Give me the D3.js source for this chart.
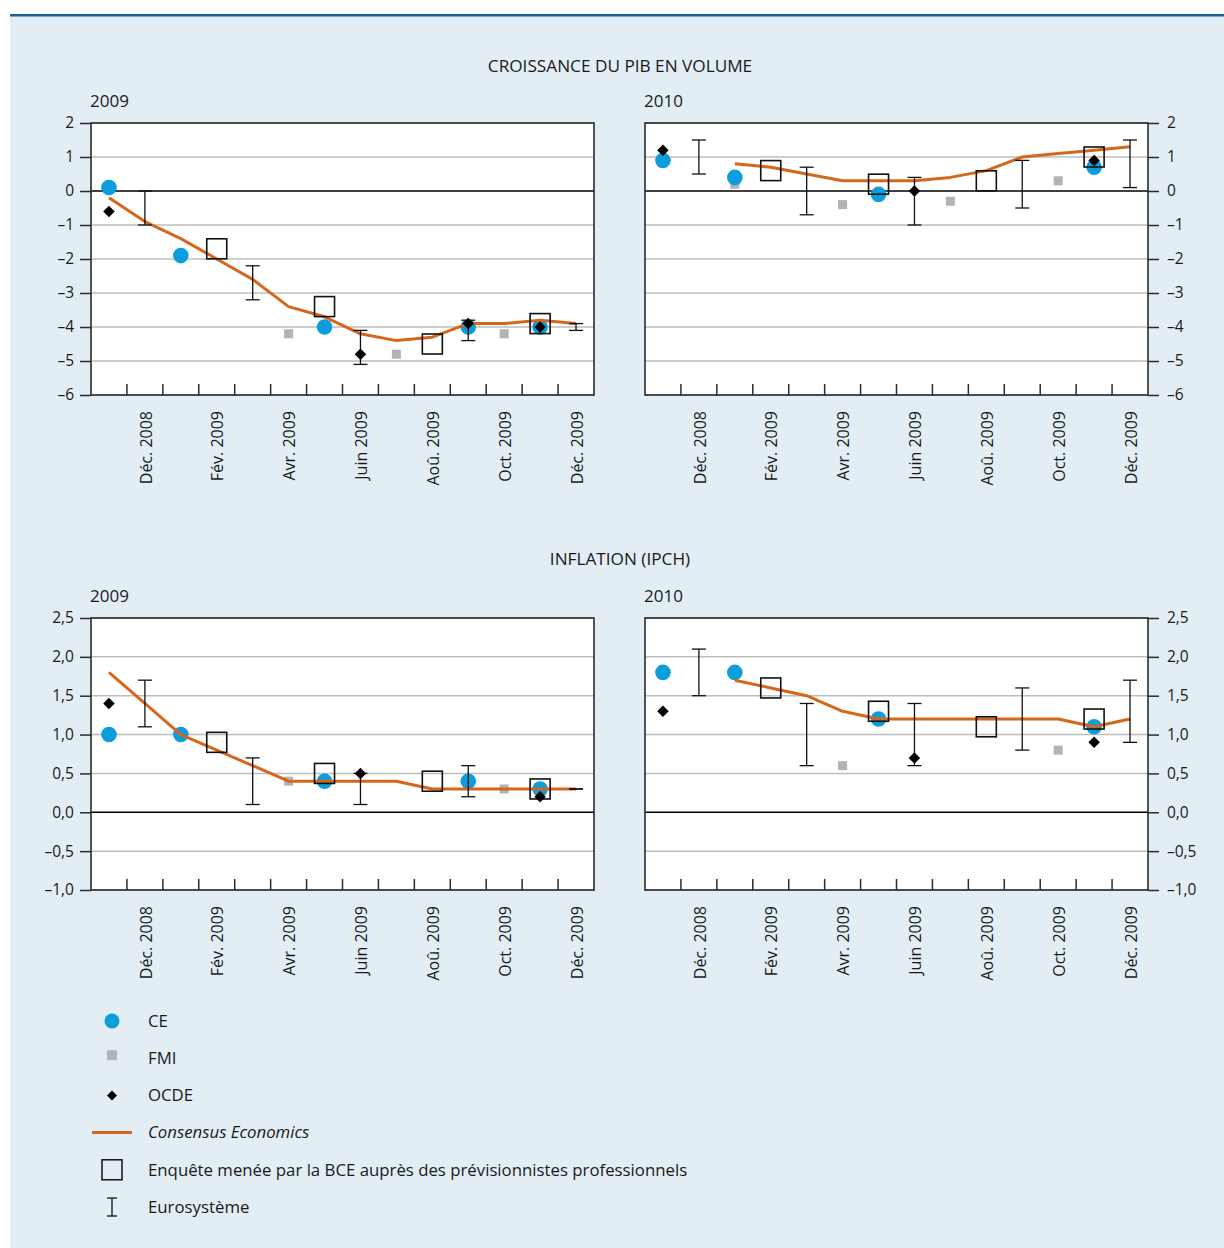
<!DOCTYPE html>
<html>
<head>
<meta charset="utf-8">
<script src="https://cdn.jsdelivr.net/npm/d3@7"></script>
<style>
  body { margin: 0; background: #ffffff; }
  svg { display: block; }
  text { font-family: "Open Sans", "Noto Sans", sans-serif; fill: #1a1a1a; }
</style>
</head>
<body>
<svg id="chart" width="1224" height="1248"></svg>
<script>
// Survey months (November 2008 – December 2009)
const months = ["Nov. 2008", "Déc. 2008", "Janv. 2009", "Fév. 2009", "Mars 2009", "Avr. 2009",
  "Mai 2009", "Juin 2009", "Juil. 2009", "Aoû. 2009", "Sept. 2009", "Oct. 2009", "Nov. 2009", "Déc. 2009"];
// Month labels printed under the axis
const monthLabels = ["Déc. 2008", "Fév. 2009", "Avr. 2009", "Juin 2009", "Aoû. 2009", "Oct. 2009", "Déc. 2009"];

// Axis tick values
const gdpTicks = [2, 1, 0, -1, -2, -3, -4, -5, -6];
const hicpTicks = [2.5, 2.0, 1.5, 1.0, 0.5, 0.0, -0.5, -1.0];

// ---- Real GDP growth, forecasts for 2009 ----
const gdp2009CE        = [0.1, null, -1.9, null, null, null, -4.0, null, null, null, -4.0, null, -4.0, null];
const gdp2009FMI       = [null, null, null, null, null, -4.2, null, null, -4.8, null, null, -4.2, null, null];
const gdp2009OCDE      = [-0.6, null, null, null, null, null, null, -4.8, null, null, -3.9, null, -4.0, null];
const gdp2009SPF       = [null, null, null, -1.7, null, null, -3.4, null, null, -4.5, null, null, -3.9, null];
const gdp2009EuroLow   = [null, -1.0, null, null, -3.2, null, null, -5.1, null, null, -4.4, null, null, -4.1];
const gdp2009EuroHigh  = [null, 0.0, null, null, -2.2, null, null, -4.1, null, null, -3.8, null, null, -3.9];
const gdp2009Consensus = [-0.2, -0.9, -1.4, -2.0, -2.6, -3.4, -3.7, -4.2, -4.4, -4.3, -3.9, -3.9, -3.8, -3.9];

// ---- Real GDP growth, forecasts for 2010 ----
const gdp2010CE        = [0.9, null, 0.4, null, null, null, -0.1, null, null, null, null, null, 0.7, null];
const gdp2010FMI       = [null, null, 0.2, null, null, -0.4, null, null, -0.3, null, null, 0.3, null, null];
const gdp2010OCDE      = [1.2, null, null, null, null, null, null, 0.0, null, null, null, null, 0.9, null];
const gdp2010SPF       = [null, null, null, 0.6, null, null, 0.2, null, null, 0.3, null, null, 1.0, null];
const gdp2010EuroLow   = [null, 0.5, null, null, -0.7, null, null, -1.0, null, null, -0.5, null, null, 0.1];
const gdp2010EuroHigh  = [null, 1.5, null, null, 0.7, null, null, 0.4, null, null, 0.9, null, null, 1.5];
const gdp2010Consensus = [null, null, 0.8, 0.7, 0.5, 0.3, 0.3, 0.3, 0.4, 0.6, 1.0, 1.1, 1.2, 1.3];

// ---- HICP inflation, forecasts for 2009 ----
const hicp2009CE        = [1.0, null, 1.0, null, null, null, 0.4, null, null, null, 0.4, null, 0.3, null];
const hicp2009FMI       = [null, null, null, null, null, 0.4, null, null, null, null, null, 0.3, null, null];
const hicp2009OCDE      = [1.4, null, null, null, null, null, null, 0.5, null, null, null, null, 0.2, null];
const hicp2009SPF       = [null, null, null, 0.9, null, null, 0.5, null, null, 0.4, null, null, 0.3, null];
const hicp2009EuroLow   = [null, 1.1, null, null, 0.1, null, null, 0.1, null, null, 0.2, null, null, 0.3];
const hicp2009EuroHigh  = [null, 1.7, null, null, 0.7, null, null, 0.5, null, null, 0.6, null, null, 0.3];
const hicp2009Consensus = [1.8, 1.4, 1.0, 0.8, 0.6, 0.4, 0.4, 0.4, 0.4, 0.3, 0.3, 0.3, 0.3, 0.3];

// ---- HICP inflation, forecasts for 2010 ----
const hicp2010CE        = [1.8, null, 1.8, null, null, null, 1.2, null, null, null, null, null, 1.1, null];
const hicp2010FMI       = [null, null, null, null, null, 0.6, null, null, null, null, null, 0.8, null, null];
const hicp2010OCDE      = [1.3, null, null, null, null, null, null, 0.7, null, null, null, null, 0.9, null];
const hicp2010SPF       = [null, null, null, 1.6, null, null, 1.3, null, null, 1.1, null, null, 1.2, null];
const hicp2010EuroLow   = [null, 1.5, null, null, 0.6, null, null, 0.6, null, null, 0.8, null, null, 0.9];
const hicp2010EuroHigh  = [null, 2.1, null, null, 1.4, null, null, 1.4, null, null, 1.6, null, null, 1.7];
const hicp2010Consensus = [null, null, 1.7, 1.6, 1.5, 1.3, 1.2, 1.2, 1.2, 1.2, 1.2, 1.2, 1.1, 1.2];

// Legend entries
const legendLabels = ["CE", "FMI", "OCDE", "Consensus Economics",
  "Enquête menée par la BCE auprès des prévisionnistes professionnels", "Eurosystème"];

const COL = {
  ce: "#0b9ddc", fmi: "#b3b3b3", ocde: "#000000", line: "#d4671b",
  frame: "#2b2b2b", grid: "#bdbdbd", bg: "#e2edf4", rule: "#1f5d9c"
};

const svg = d3.select("#chart");

// page background and top rule
svg.append("rect").attr("x", 10).attr("y", 16).attr("width", 1214).attr("height", 1232).attr("fill", COL.bg);
svg.append("rect").attr("x", 10).attr("y", 14).attr("width", 1214).attr("height", 2.5).attr("fill", COL.rule);

// section titles
svg.append("text").attr("x", 620).attr("y", 72).attr("text-anchor", "middle")
  .style("font-size", "17.2px").text("CROISSANCE DU PIB EN VOLUME");
svg.append("text").attr("x", 620).attr("y", 565).attr("text-anchor", "middle")
  .style("font-size", "17.2px").text("INFLATION (IPCH)");

const fmtGdp = d => String(d).replace("-", "–");
const fmtHicp = d => d3.format(".1f")(d).replace(".", ",").replace("−", "–").replace("-", "–");

function drawPanel(p) {
  const g = svg.append("g");
  const x = d3.scaleBand().domain(months).range([p.left, p.right]).padding(0);
  const y = d3.scaleLinear().domain(p.domain).range([p.bottom, p.top]);
  const cx = i => x(months[i]) + x.bandwidth() / 2;

  // year label
  g.append("text").attr("x", p.left - 1).attr("y", p.top - 16)
    .style("font-size", "17px").text(p.year);

  // plot area
  g.append("rect").attr("x", p.left).attr("y", p.top)
    .attr("width", p.right - p.left).attr("height", p.bottom - p.top).attr("fill", "#ffffff");

  // horizontal grid lines
  g.append("g").selectAll("line").data(p.ticks.filter(t => t !== 0)).join("line")
    .attr("x1", p.left).attr("x2", p.right)
    .attr("y1", d => y(d)).attr("y2", d => y(d))
    .attr("stroke", COL.grid).attr("stroke-width", 1.5);
  g.append("line").attr("x1", p.left).attr("x2", p.right)
    .attr("y1", y(0)).attr("y2", y(0)).attr("stroke", "#000").attr("stroke-width", 1.5);

  // interior month ticks along the bottom edge
  g.append("g").selectAll("line").data(months.slice(1)).join("line")
    .attr("x1", d => x(d)).attr("x2", d => x(d))
    .attr("y1", p.bottom).attr("y2", p.bottom - 11)
    .attr("stroke", COL.frame).attr("stroke-width", 1.5);

  // y axis
  const axis = (p.side === "left" ? d3.axisLeft(y) : d3.axisRight(y))
    .tickValues(p.ticks).tickFormat(p.fmt).tickSize(11).tickPadding(p.side === "left" ? 6 : 8);
  const ax = g.append("g")
    .attr("transform", `translate(${p.side === "left" ? p.left : p.right},0)`)
    .call(axis);
  ax.select(".domain").remove();
  ax.selectAll(".tick line").attr("stroke", COL.frame).attr("stroke-width", 1.5);
  ax.selectAll(".tick text").style("font-size", "15.5px").attr("fill", "#1a1a1a")
    .style("font-family", "'Open Sans', 'Noto Sans', sans-serif");

  // frame
  g.append("rect").attr("x", p.left).attr("y", p.top)
    .attr("width", p.right - p.left).attr("height", p.bottom - p.top)
    .attr("fill", "none").attr("stroke", COL.frame).attr("stroke-width", 1.6);

  // month labels
  g.append("g").selectAll("text").data(monthLabels).join("text")
    .attr("transform", d => `translate(${x(d) + x.bandwidth() / 2 + 1},${p.bottom + 16}) rotate(-90)`)
    .attr("text-anchor", "end").attr("dy", "0.35em")
    .style("font-size", "16px").text(d => d);

  const idx = arr => arr.map((v, i) => ({ i, v })).filter(d => d.v !== null);

  // FMI
  g.append("g").selectAll("rect").data(idx(p.fmi)).join("rect")
    .attr("x", d => cx(d.i) - 4.5).attr("y", d => y(d.v) - 4.5)
    .attr("width", 9).attr("height", 9).attr("fill", COL.fmi);

  // CE
  g.append("g").selectAll("circle").data(idx(p.ce)).join("circle")
    .attr("cx", d => cx(d.i)).attr("cy", d => y(d.v)).attr("r", 7.8).attr("fill", COL.ce);

  // Consensus Economics
  const line = d3.line().defined(d => d.v !== null).x(d => cx(d.i)).y(d => y(d.v));
  g.append("path").datum(p.consensus.map((v, i) => ({ i, v })))
    .attr("d", line).attr("fill", "none").attr("stroke", COL.line)
    .attr("stroke-width", 3).attr("stroke-linejoin", "round");

  // ECB Survey of Professional Forecasters
  g.append("g").selectAll("rect").data(idx(p.spf)).join("rect")
    .attr("x", d => cx(d.i) - 10).attr("y", d => y(d.v) - 10)
    .attr("width", 20).attr("height", 20)
    .attr("fill", "none").attr("stroke", "#111").attr("stroke-width", 1.6);

  // Eurosystem ranges
  const ranges = p.euroLow.map((lo, i) => ({ i, lo, hi: p.euroHigh[i] })).filter(d => d.lo !== null);
  const eb = g.append("g").selectAll("g").data(ranges).join("g").attr("stroke", "#111").attr("stroke-width", 1.3);
  eb.append("line").attr("x1", d => cx(d.i)).attr("x2", d => cx(d.i))
    .attr("y1", d => y(d.lo)).attr("y2", d => y(d.hi));
  eb.append("line").attr("x1", d => cx(d.i) - 7).attr("x2", d => cx(d.i) + 7)
    .attr("y1", d => y(d.lo)).attr("y2", d => y(d.lo));
  eb.append("line").attr("x1", d => cx(d.i) - 7).attr("x2", d => cx(d.i) + 7)
    .attr("y1", d => y(d.hi)).attr("y2", d => y(d.hi));

  // OCDE
  const diamond = d3.symbol().type(d3.symbolSquare).size(66);
  g.append("g").selectAll("path").data(idx(p.ocde)).join("path")
    .attr("d", diamond)
    .attr("transform", d => `translate(${cx(d.i)},${y(d.v)}) rotate(45)`)
    .attr("fill", COL.ocde);
}

drawPanel({ left: 91, right: 594, top: 123, bottom: 395, side: "left", year: "2009",
  domain: [-6, 2], ticks: gdpTicks, fmt: fmtGdp,
  ce: gdp2009CE, fmi: gdp2009FMI, ocde: gdp2009OCDE, spf: gdp2009SPF,
  euroLow: gdp2009EuroLow, euroHigh: gdp2009EuroHigh, consensus: gdp2009Consensus });
drawPanel({ left: 645, right: 1148, top: 123, bottom: 395, side: "right", year: "2010",
  domain: [-6, 2], ticks: gdpTicks, fmt: fmtGdp,
  ce: gdp2010CE, fmi: gdp2010FMI, ocde: gdp2010OCDE, spf: gdp2010SPF,
  euroLow: gdp2010EuroLow, euroHigh: gdp2010EuroHigh, consensus: gdp2010Consensus });
drawPanel({ left: 91, right: 594, top: 618, bottom: 890, side: "left", year: "2009",
  domain: [-1, 2.5], ticks: hicpTicks, fmt: fmtHicp,
  ce: hicp2009CE, fmi: hicp2009FMI, ocde: hicp2009OCDE, spf: hicp2009SPF,
  euroLow: hicp2009EuroLow, euroHigh: hicp2009EuroHigh, consensus: hicp2009Consensus });
drawPanel({ left: 645, right: 1148, top: 618, bottom: 890, side: "right", year: "2010",
  domain: [-1, 2.5], ticks: hicpTicks, fmt: fmtHicp,
  ce: hicp2010CE, fmi: hicp2010FMI, ocde: hicp2010OCDE, spf: hicp2010SPF,
  euroLow: hicp2010EuroLow, euroHigh: hicp2010EuroHigh, consensus: hicp2010Consensus });

// legend
const legendY = d3.scalePoint().domain(legendLabels).range([1021, 1207]);
const lg = svg.append("g");
const symX = 112;
lg.append("circle").attr("cx", symX).attr("cy", legendY(legendLabels[0])).attr("r", 7.5).attr("fill", COL.ce);
lg.append("rect").attr("x", symX - 5).attr("y", legendY(legendLabels[1]) - 8).attr("width", 10).attr("height", 10).attr("fill", COL.fmi);
lg.append("path").attr("d", d3.symbol().type(d3.symbolSquare).size(50))
  .attr("transform", `translate(${symX},${legendY(legendLabels[2])}) rotate(45)`).attr("fill", "#000");
lg.append("line").attr("x1", 92).attr("x2", 132)
  .attr("y1", legendY(legendLabels[3])).attr("y2", legendY(legendLabels[3]))
  .attr("stroke", COL.line).attr("stroke-width", 3);
lg.append("rect").attr("x", symX - 10).attr("y", legendY(legendLabels[4]) - 10).attr("width", 20).attr("height", 20)
  .attr("fill", "none").attr("stroke", "#111").attr("stroke-width", 1.5);
const ey = legendY(legendLabels[5]);
const leb = lg.append("g").attr("stroke", "#111").attr("stroke-width", 1.3);
leb.append("line").attr("x1", symX).attr("x2", symX).attr("y1", ey - 9).attr("y2", ey + 9);
leb.append("line").attr("x1", symX - 5).attr("x2", symX + 5).attr("y1", ey - 9).attr("y2", ey - 9);
leb.append("line").attr("x1", symX - 5).attr("x2", symX + 5).attr("y1", ey + 9).attr("y2", ey + 9);

lg.selectAll("text").data(legendLabels).join("text")
  .attr("x", 148).attr("y", d => legendY(d)).attr("dy", "0.35em")
  .style("font-size", "16.8px")
  .style("font-style", (d, i) => i === 3 ? "italic" : "normal")
  .text(d => d);
</script>
</body>
</html>
